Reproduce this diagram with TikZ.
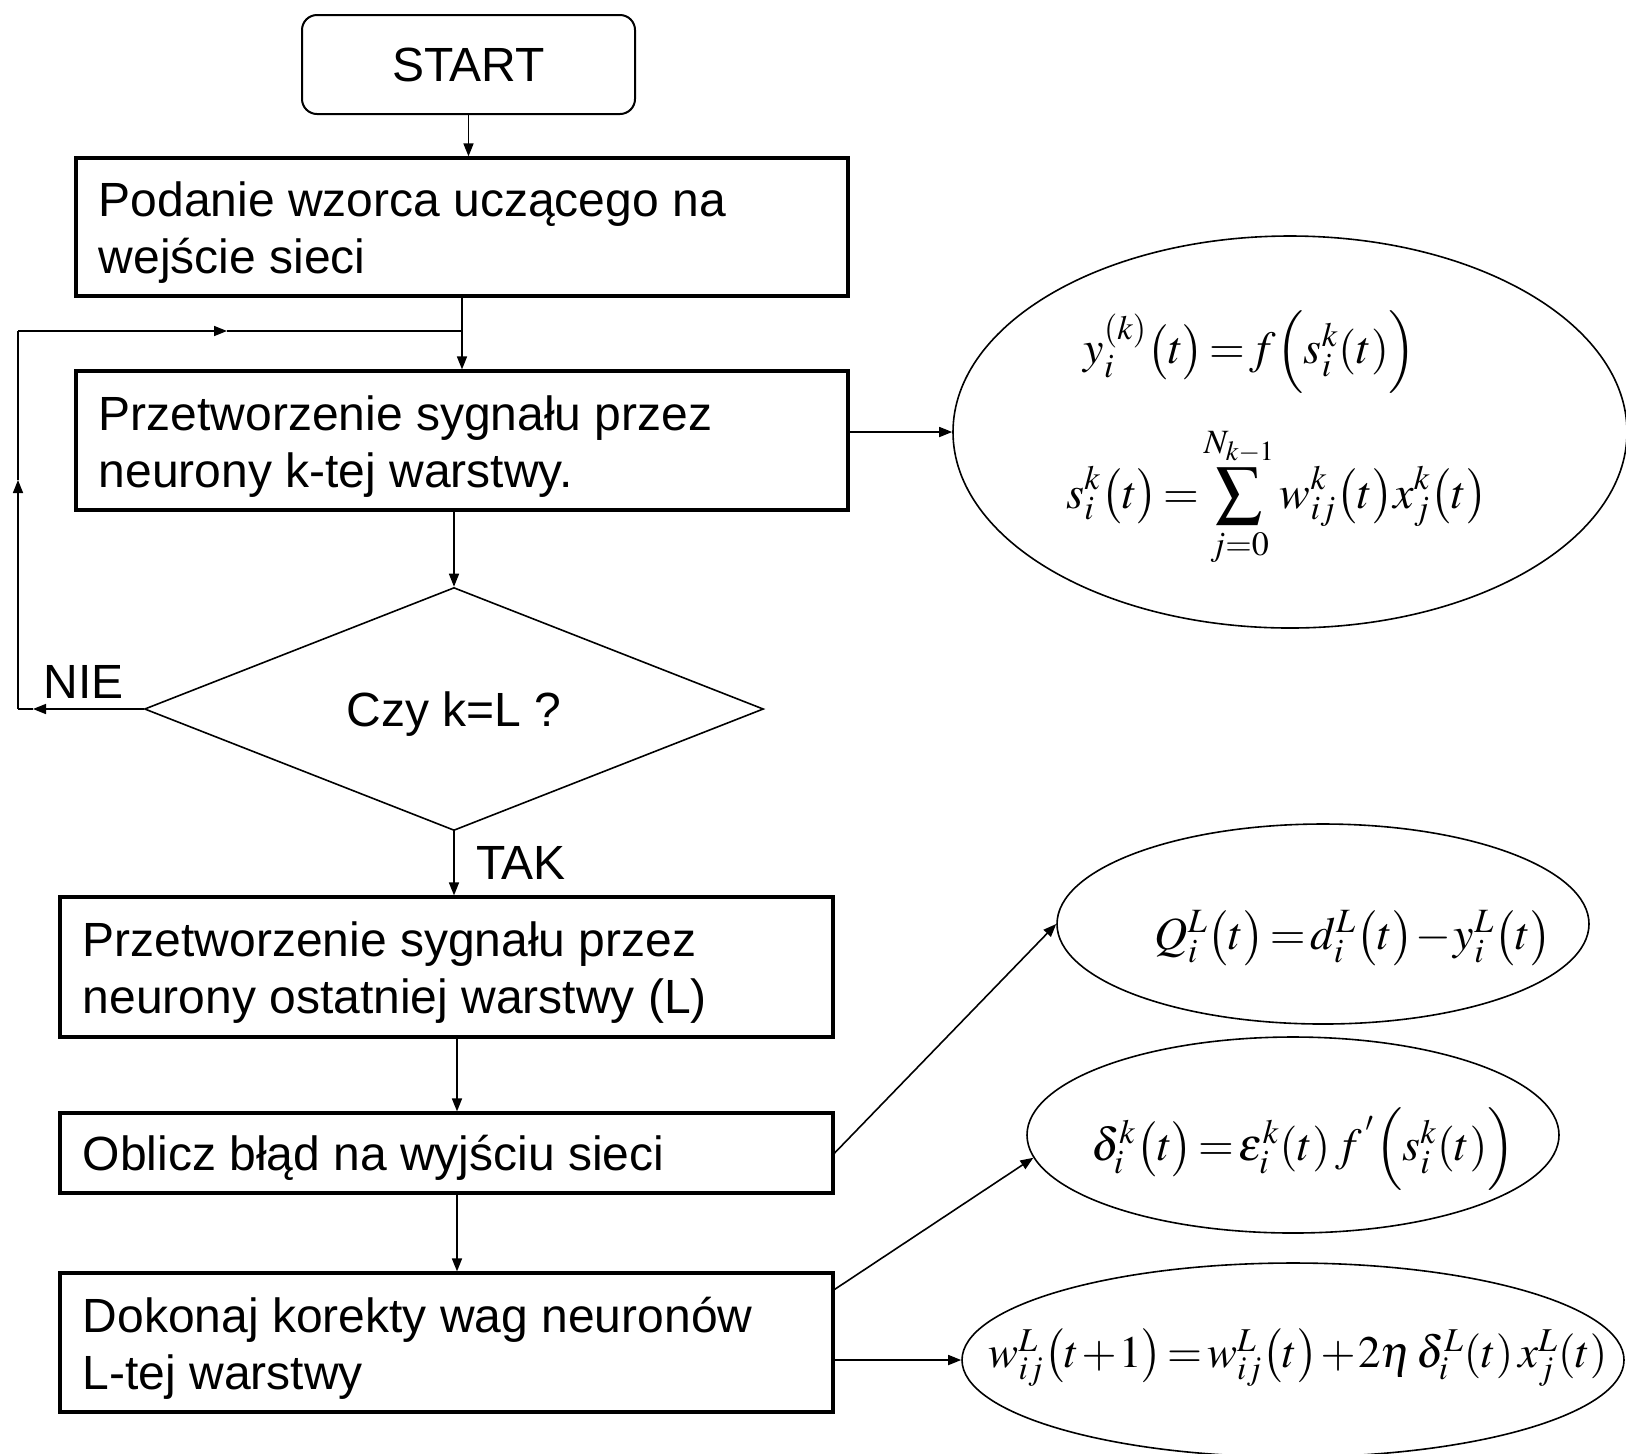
\documentclass[tikz,border=0pt]{standalone}
\usepackage{mathptmx}
\usepackage[no-math]{fontspec}
\setmainfont{Liberation Sans}
\usetikzlibrary{shapes.geometric,arrows.meta}
\begin{document}
\begin{tikzpicture}[x=0.5pt,y=-0.5pt,
  txt/.style={font=\fontsize{24}{28.5}\selectfont},
  btext/.style={txt,align=left,inner sep=0pt,anchor=west},
  mth/.style={font=\fontsize{23}{28}\selectfont,inner sep=0pt,
    execute at begin node={\thickmuskip=2mu\medmuskip=1mu}},
  boxa/.style={draw,line width=1.6pt,inner sep=0pt,minimum width=386pt},
  boxb/.style={draw,line width=1.6pt,inner sep=0pt,minimum width=386.5pt},
  oval/.style={draw,ellipse,line width=0.8pt,inner sep=0pt},
  arr/.style={line width=0.8pt,-{Triangle[length=6.5pt,width=5pt]}},
  ln/.style={line width=0.8pt}
]
\path[fill=white,use as bounding box] (0,0) rectangle (1626,1453);

% nodes
\node[draw,line width=1pt,rounded corners=7.5pt,minimum width=166.5pt,minimum height=49.5pt,txt] (start) at (468.5,64.5) {START};
\node[boxa,minimum height=69pt] (b1) at (462,227) {};
\node[btext] (t1) at ([xshift=12pt,yshift=-3pt]b1.west) {Podanie wzorca uczącego na\\wejście sieci};
\node[boxa,minimum height=69.5pt] (b2) at (462,440.5) {};
\node[btext] (t2) at ([xshift=12pt,yshift=-3pt]b2.west) {Przetworzenie sygnału przez\\neurony k-tej warstwy.};
\node[draw,diamond,aspect=2.55,line width=0.8pt,minimum width=309.5pt,minimum height=121.5pt,inner sep=0pt] (d) at (454,709) {};
\node[txt,inner sep=0pt] (q) at (454,714) {Czy k=L ?};
\node[boxb,minimum height=70pt] (b3) at (446.5,967) {};
\node[btext] (t3) at ([xshift=12pt,yshift=-3pt]b3.west) {Przetworzenie sygnału przez\\neurony ostatniej warstwy (L)};
\node[boxb,minimum height=40pt] (b4) at (446.5,1153) {};
\node[btext] (t4) at ([xshift=12pt,yshift=-2.5pt]b4.west) {Oblicz błąd na wyjściu sieci};
\node[boxb,minimum height=69.5pt] (b5) at (446.5,1342.5) {};
\node[btext] (t5) at ([xshift=12pt,yshift=-3pt]b5.west) {Dokonaj korekty wag neuronów\\L-tej warstwy};

\node[txt,inner sep=0pt] (nie) at (84,682) {NIE};
\node[txt,inner sep=0pt] (tak) at (521,863) {TAK};

% ellipses
\node[oval,minimum width=337pt,minimum height=196pt] (e1) at (1290,432) {};
\node[oval,minimum width=266pt,minimum height=100pt] (e2) at (1323,924) {};
\node[oval,minimum width=266pt,minimum height=98pt] (e3) at (1293,1135) {};
\node[oval,minimum width=331pt,minimum height=97pt] (e4) at (1293,1360) {};

% formulas
\node[mth] (f1) at (1250,352) {$y_i^{(k)}\bigl(t\bigr)=f\Bigl(s_i^k(t)\Bigr)$};
\node[mth] (f2) at (1277,497) {$\displaystyle s_i^k\bigl(t\bigr)=\sum_{j=0}^{N_{k-1}} w_{ij}^k\bigl(t\bigr)x_j^k\bigl(t\bigr)$};
\node[mth] (f3) at (1353,938) {$Q_i^L\bigl(t\bigr)=d_i^L\bigl(t\bigr)-y_i^L\bigl(t\bigr)$};
\node[mth] (f4) at (1303,1149) {$\delta_i^k\bigl(t\bigr)=\varepsilon_i^k(t)\,f^{\,'}\Bigl(s_i^k(t)\Bigr)$};
\node[mth,font=\fontsize{22.5}{27}\selectfont] (f5) at (1298,1358) {$w_{ij}^L\bigl(t+1\bigr)=w_{ij}^L\bigl(t\bigr)+2\eta\,\delta_i^L(t)\,x_j^L(t)$};

% helper coordinates
\coordinate (j1) at (462,331);
\coordinate (r1) at (227,331);
\coordinate (l1) at (18,331);
\coordinate (u1) at (18,480);
\coordinate (l2) at (18,709);
\coordinate (n1) at (33,709);
\coordinate (c457) at (457,0);

% main flow
\draw[arr] (start.south) -- (start.south |- b1.north);
\draw[ln] (b1.south) -- (j1);
\draw[arr] (j1) -- (j1 |- b2.north);
\draw[arr] (b2.south -| d.north) -- (d.north);
\draw[arr] (d.south) -- (d.south |- b3.north);
\draw[arr] (b3.south -| c457) -- (b4.north -| c457);
\draw[arr] (b4.south -| c457) -- (b5.north -| c457);

% loop back
\draw[arr] (d.west) -- (n1);
\draw[ln] (n1) -- (l2);
\draw[arr] (l2) -- (u1);
\draw[ln] (u1) -- (l1);
\draw[arr] (l1) -- (r1);
\draw[ln] (r1) -- (j1);

% to ellipses
\draw[arr] (b2.east |- e1.west) -- (e1.west);
\draw[arr] (b4.east) -- (e2.west);
\draw[arr] ([yshift=-9pt]b5.north east) -- (e3.185);
\draw[arr] (b5.east |- e4.west) -- (e4.west);
\end{tikzpicture}
\end{document}
